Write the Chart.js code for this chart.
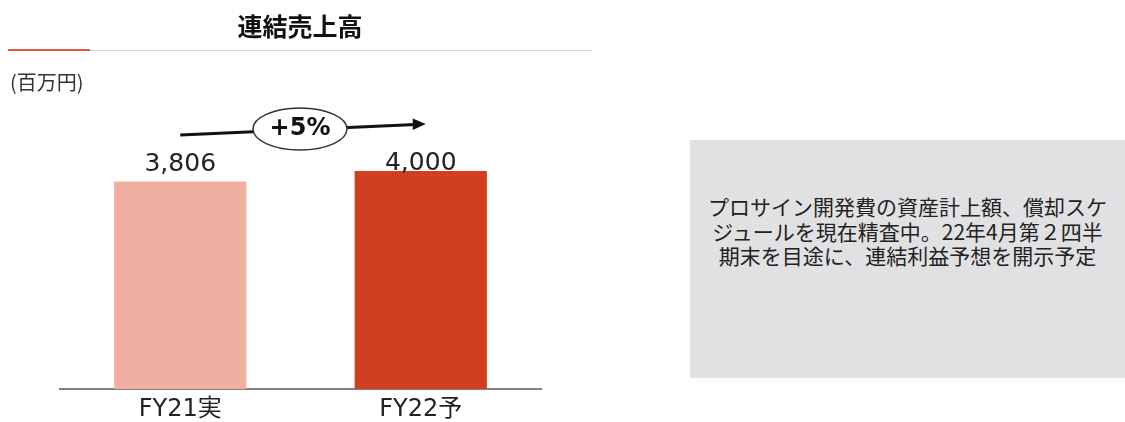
<!DOCTYPE html>
<html lang="ja">
<head>
<meta charset="utf-8">
<script src="https://cdn.jsdelivr.net/npm/chart.js@4"></script>
<style>
  body { margin: 0; background: #fff; }
  #wrap { position: relative; width: 1125px; height: 422px; overflow: hidden; font-family: "Noto Sans CJK JP", "DejaVu Sans", sans-serif; color: #222; }
  #myChart { position: absolute; left: 0; top: 0; }
  .title { position: absolute; left: 0; width: 600px; top: 9px; text-align: center; font-size: 25px; font-weight: bold; line-height: 32px; color: #111; }
  .rule { position: absolute; left: 8px; top: 50px; width: 584px; height: 1px; background: #d6d6d6; }
  .rule-red { position: absolute; left: 8px; top: 49px; width: 82px; height: 2px; background: #e0573f; }
  .unit { position: absolute; left: 10px; top: 67px; font-size: 20px; line-height: 30px; color: #333; }
  .note { position: absolute; left: 690px; top: 140px; width: 435px; height: 238px; box-sizing: border-box; padding-bottom: 56px; background: #e1e1e3; display: flex; align-items: center; justify-content: center; text-align: center; font-size: 21px; line-height: 24.5px; color: #222; }
</style>
</head>
<body>
<div id="wrap">
  <canvas id="myChart" width="1125" height="422"></canvas>
  <div class="title">連結売上高</div>
  <div class="rule"></div>
  <div class="rule-red"></div>
  <div class="unit">(百万円)</div>
  <div class="note">プロサイン開発費の資産計上額、償却スケ<br>ジュールを現在精査中。22年4月第２四半<br>期末を目途に、連結利益予想を開示予定</div>
</div>
<script>
var labels = ['FY21実', 'FY22予'];
var sales = [3806, 4000];
var barColors = ['#f0b0a1', '#d13f20'];

// value text over each bar, plus the growth arrow with its oval
var barText = {
  id: 'barText',
  afterDatasetsDraw: function (chart) {
    var ctx = chart.ctx;
    var bars = chart.getDatasetMeta(0).data;
    var lift = [10, 1];
    ctx.save();
    ctx.fillStyle = '#222';
    ctx.font = '25px "DejaVu Sans"';
    ctx.textAlign = 'center';
    ctx.textBaseline = 'alphabetic';
    bars.forEach(function (b, i) {
      ctx.fillText(sales[i].toLocaleString('en-US'), b.x, b.y - lift[i]);
    });

    // arrow
    var x0 = bars[0].x, y0 = 135;
    var x1 = bars[1].x + 5, y1 = 124;
    ctx.strokeStyle = '#111';
    ctx.fillStyle = '#111';
    ctx.lineWidth = 3;
    ctx.beginPath();
    ctx.moveTo(x0, y0);
    ctx.lineTo(x1 - 10, y1 + 0.45);
    ctx.stroke();
    ctx.beginPath();
    ctx.moveTo(x1, y1);
    ctx.lineTo(x1 - 13, y1 - 5.5);
    ctx.lineTo(x1 - 13, y1 + 6);
    ctx.closePath();
    ctx.fill();

    // oval with growth rate
    var cx = (x0 + x1) / 2 - 3, cy = 129;
    ctx.beginPath();
    ctx.ellipse(cx, cy, 47, 21, 0, 0, Math.PI * 2);
    ctx.fillStyle = '#fff';
    ctx.fill();
    ctx.lineWidth = 1.5;
    ctx.strokeStyle = '#333';
    ctx.stroke();
    var growth = Math.round((sales[1] / sales[0] - 1) * 100);
    ctx.fillStyle = '#111';
    ctx.font = 'bold 24px "DejaVu Sans"';
    ctx.textBaseline = 'middle';
    ctx.fillText('+' + growth + '%', cx, cy);
    ctx.restore();
  }
};

new Chart(document.getElementById('myChart'), {
  type: 'bar',
  data: {
    labels: labels,
    datasets: [{
      data: sales,
      backgroundColor: barColors,
      borderWidth: 0,
      barPercentage: 0.55,
      categoryPercentage: 1
    }]
  },
  options: {
    responsive: false,
    animation: false,
    devicePixelRatio: 1,
    layout: { padding: { left: 60, right: 584, top: 100, bottom: 0 } },
    plugins: { legend: { display: false }, tooltip: { enabled: false } },
    scales: {
      y: { display: false, min: 0, max: 5300 },
      x: {
        grid: { display: false, drawTicks: false },
        border: { display: true, color: '#808080', width: 2 },
        ticks: { color: '#222', font: { family: '"DejaVu Sans", "Noto Sans CJK JP"', size: 24 }, padding: 6 },
        afterFit: function (s) { s.height = 33; }
      }
    }
  },
  plugins: [barText]
});
</script>
</body>
</html>
